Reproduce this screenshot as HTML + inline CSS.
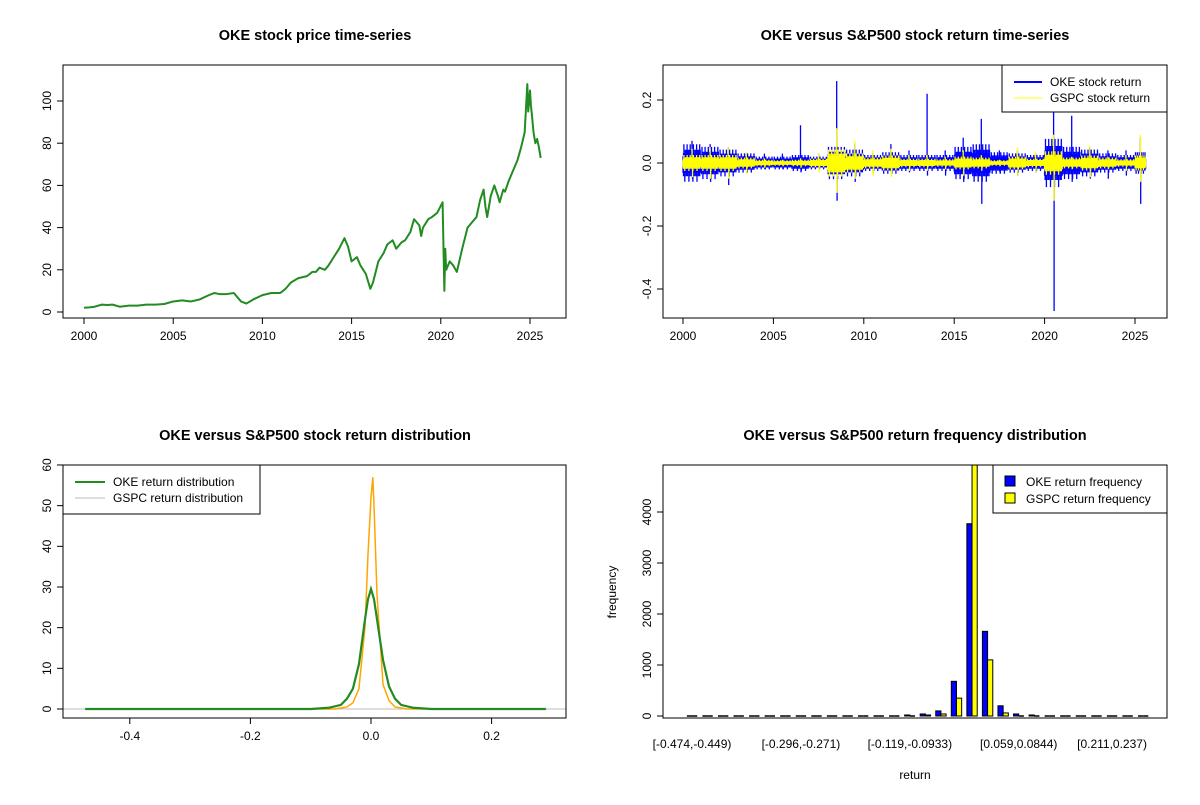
<!DOCTYPE html>
<html><head><meta charset="utf-8"><style>
body{margin:0;background:#fff;}
svg text{font-family:"Liberation Sans",Arial,sans-serif;}
</style></head><body>
<svg id="chart" width="1200" height="800" viewBox="0 0 1200 800" xmlns="http://www.w3.org/2000/svg">
<rect width="1200" height="800" fill="#fff"/>
<g id="p1"></g>
<g id="p2"></g>
<g id="p3"></g>
<g id="p4"></g>
</svg>
<script>
// ---- Panel 1 data
const priceYears=[2000,2000.3,2000.6,2001,2001.3,2001.6,2002,2002.5,2003,2003.5,2004,2004.5,2005,2005.5,2006,2006.5,2007,2007.3,2007.6,2008,2008.4,2008.8,2009.1,2009.5,2010,2010.5,2011,2011.3,2011.6,2012,2012.5,2012.8,2013,2013.2,2013.5,2013.7,2014,2014.3,2014.6,2014.8,2015,2015.3,2015.5,2015.8,2016.05,2016.2,2016.5,2016.8,2017,2017.3,2017.5,2017.8,2018,2018.3,2018.5,2018.8,2018.9,2019,2019.3,2019.5,2019.8,2020.1,2020.2,2020.25,2020.3,2020.5,2020.7,2020.9,2021.2,2021.5,2021.8,2022,2022.2,2022.4,2022.5,2022.6,2022.8,2023,2023.2,2023.3,2023.5,2023.6,2023.8,2024,2024.3,2024.5,2024.7,2024.85,2024.9,2025.0,2025.05,2025.1,2025.2,2025.3,2025.4,2025.5,2025.6];
const priceVals=[2,2.2,2.5,3.5,3.3,3.5,2.5,3,3,3.5,3.5,3.8,5,5.5,5,6,8,9,8.5,8.5,9,5,4,6,8,9,9,11,14,16,17,19,19,21,20,22,26,30,35,31,24,26,22,18,11,14,24,28,32,34,30,33,34,38,44,41,36,40,44,45,47,52,10,30,20,24,22,19,30,40,43,45,53,58,50,45,55,60,55,52,58,57,62,66,72,78,85,108,95,105,98,94,85,80,82,78,73];
const yearTicks=[2000,2005,2010,2015,2020,2025];
const priceTicks=[0,20,40,60,80,100];
// ---- Panel 2 data (per-year envelopes)
const retYears=[2000,2001,2002,2003,2004,2005,2006,2007,2008,2009,2010,2011,2012,2013,2014,2015,2016,2017,2018,2019,2020,2021,2022,2023,2024,2025];
const okeTyp=[.035,.03,.025,.018,.012,.012,.015,.012,.03,.025,.015,.02,.015,.015,.015,.03,.035,.02,.018,.015,.045,.03,.025,.018,.015,.02];
const okeMax=[.07,.06,.05,.03,.03,.03,.12,.03,.26,.06,.03,.06,.04,.22,.04,.08,.14,.04,.04,.03,.17,.15,.05,.04,.04,.08];
const okeMin=[-.05,-.06,-.07,-.03,-.02,-.02,-.03,-.02,-.12,-.06,-.03,-.03,-.03,-.04,-.04,-.06,-.13,-.03,-.04,-.03,-.47,-.06,-.05,-.05,-.04,-.13];
const gspcTyp=[.015,.015,.015,.01,.006,.005,.006,.008,.025,.018,.01,.014,.008,.008,.007,.012,.01,.005,.012,.008,.022,.01,.014,.01,.007,.014];
const gspcMax=[.045,.05,.05,.035,.015,.01,.015,.03,.11,.07,.04,.045,.025,.025,.02,.04,.025,.01,.05,.035,.09,.02,.055,.02,.025,.09];
const gspcMin=[-.045,-.05,-.05,-.035,-.015,-.01,-.015,-.03,-.095,-.05,-.04,-.045,-.025,-.025,-.02,-.04,-.025,-.01,-.04,-.03,-.12,-.02,-.045,-.02,-.025,-.06];
const retTicks=[-0.4,-0.2,0.0,0.2];
// ---- Panel 3 data
const okeDx=[-0.474,-0.1,-0.07,-0.05,-0.04,-0.03,-0.02,-0.01,-0.005,0,0.005,0.01,0.02,0.03,0.04,0.05,0.07,0.1,0.29];
const okeDy=[0,0,0.3,1,2.5,5,11,22,27,29.5,27,22,12,5.5,2.5,1,0.3,0,0];
const gspcDx=[-0.12,-0.06,-0.04,-0.03,-0.02,-0.01,-0.005,0,0.003,0.005,0.01,0.02,0.03,0.04,0.06,0.09];
const gspcDy=[0,0,0.5,1.5,5,20,38,52,57,50,28,6,2,0.5,0,0];
const densXTicks=[-0.4,-0.2,0.0,0.2];
const densYTicks=[0,10,20,30,40,50,60];
// ---- Panel 4 data
const binLabels=["[-0.474,-0.449)","","","","","","","[-0.296,-0.271)","","","","","","","[-0.119,-0.0933)","","","","","","","[0.059,0.0844)","","","","","","[0.211,0.237)","",""];
const okeCounts=[1,0,0,0,0,0,0,0,0,1,0,1,5,15,20,40,100,680,3770,1660,200,40,20,15,1,1,0,0,0,1];
const gspcCounts=[0,0,0,0,0,0,0,0,0,0,0,0,2,5,8,20,40,350,5400,1100,60,15,5,3,0,0,0,0,0,0];
const freqTicks=[0,1000,2000,3000,4000];

const NS="http://www.w3.org/2000/svg";
function mk(parent,tag,attrs,name,text){const e=document.createElementNS(NS,tag);for(const k in attrs)e.setAttribute(k,attrs[k]);


if(text!==undefined)e.textContent=text;parent.appendChild(e);return e;}
function box(g,x0,y0,x1,y1){mk(g,'rect',{x:x0,y:y0,width:x1-x0,height:y1-y0,fill:'none',stroke:'#000','stroke-width':1},'plot-frame');}
function title(g,x,y,t){mk(g,'text',{x:x,y:y,'text-anchor':'middle','font-size':'14.5','font-weight':'bold'},'chart-title',t);}
function xtick(g,x,yb,lab){mk(g,'line',{x1:x,y1:yb,x2:x,y2:yb+6,stroke:'#000'},'x-tick');mk(g,'text',{x:x,y:yb+22,'text-anchor':'middle','font-size':'12'},'x-tick-label',lab);}
function ytick(g,xl,y,lab){mk(g,'line',{x1:xl,y1:y,x2:xl-6,y2:y,stroke:'#000'},'y-tick');mk(g,'text',{x:0,y:0,'text-anchor':'middle','font-size':'12',transform:`translate(${xl-12},${y}) rotate(-90)`},'y-tick-label',lab);}

// Panel 1
(function(){const g=document.getElementById('p1');
const sx=v=>84+(v-2000)*(530-84)/25, sy=v=>312-v*2.11;
title(g,315,40,'OKE stock price time-series');
mk(g,'polyline',{points:priceYears.map((y,i)=>sx(y)+','+sy(priceVals[i])).join(' '),fill:'none',stroke:'#228B22','stroke-width':2,'stroke-linejoin':'round'},'price-line');
mk(g,'line',{x1:sx(2000),y1:318,x2:sx(2025),y2:318,stroke:'#000'},'x-axis');
yearTicks.forEach(t=>xtick(g,sx(t),318,String(t)));
mk(g,'line',{x1:63,y1:sy(0),x2:63,y2:sy(100),stroke:'#000'},'y-axis');
priceTicks.forEach(t=>ytick(g,63,sy(t),String(t)));
box(g,63,65,566,318);})();

// Panel 2
(function(){const g=document.getElementById('p2');
const sx=v=>683+(v-2000)*(1135-683)/25, sy=v=>163-v*315;
title(g,915,40,'OKE versus S&P500 stock return time-series');
function series(typ,mx,mn,col,name){let d='';
retYears.forEach((yr,i)=>{const n=40;const span=(yr===2025)?0.6:1;for(let k=0;k<n;k++){const x=sx(yr+span*k/n);let hi=typ[i]*(0.6+0.3*(k%3)),lo=-typ[i]*(0.6+0.3*((k+1)%3));
if(k%7===2)hi=typ[i]*1.7;if(k%9===4)lo=-typ[i]*1.7;
if(k===Math.floor(n/2)){hi=mx[i];}if(k===Math.floor(n/2)+1){lo=mn[i];}
d+=`M${x.toFixed(1)},${sy(hi).toFixed(1)}V${sy(lo).toFixed(1)}`;}});
mk(g,'path',{d:d,stroke:col,'stroke-width':1.3,fill:'none'},name);}
series(okeTyp,okeMax,okeMin,'#0000FF','oke-return-series');
series(gspcTyp,gspcMax,gspcMin,'#FFFF00','gspc-return-series');
mk(g,'line',{x1:sx(2000),y1:318,x2:sx(2025),y2:318,stroke:'#000'},'x-axis');
yearTicks.forEach(t=>xtick(g,sx(t),318,String(t)));
retTicks.forEach(t=>ytick(g,663,sy(t),t===0?'0.0':String(t)));
box(g,663,65,1167,318);
const lg=mk(g,'g',{},'legend');
mk(lg,'rect',{x:1002,y:65,width:165,height:47,fill:'#fff',stroke:'#000'},'legend-box');
mk(lg,'line',{x1:1014,y1:82,x2:1042,y2:82,stroke:'#0000FF','stroke-width':2},'legend-oke-swatch');
mk(lg,'text',{x:1050,y:86,'font-size':'12'},'legend-oke-label','OKE stock return');
mk(lg,'line',{x1:1014,y1:98,x2:1042,y2:98,stroke:'#FFFF00','stroke-width':1},'legend-gspc-swatch');
mk(lg,'text',{x:1050,y:102,'font-size':'12'},'legend-gspc-label','GSPC stock return');})();

// Panel 3
(function(){const g=document.getElementById('p3');
const sx=v=>371+v*603, sy=v=>709-v*4.067;
title(g,315,440,'OKE versus S&P500 stock return distribution');
mk(g,'line',{x1:63,y1:sy(0),x2:566,y2:sy(0),stroke:'#bebebe'},'zero-line');
mk(g,'polyline',{points:gspcDx.map((x,i)=>sx(x)+','+sy(gspcDy[i])).join(' '),fill:'none',stroke:'#FFA500','stroke-width':1.5},'gspc-density');
mk(g,'polyline',{points:okeDx.map((x,i)=>sx(x)+','+sy(okeDy[i])).join(' '),fill:'none',stroke:'#228B22','stroke-width':2.2},'oke-density');
mk(g,'line',{x1:sx(-0.4),y1:718,x2:sx(0.2),y2:718,stroke:'#000'},'x-axis');
densXTicks.forEach(t=>xtick(g,sx(t),718,t===0?'0.0':String(t)));
mk(g,'line',{x1:63,y1:sy(0),x2:63,y2:sy(60),stroke:'#000'},'y-axis');
densYTicks.forEach(t=>ytick(g,63,sy(t),String(t)));
box(g,63,465,566,718);
const lg=mk(g,'g',{},'legend');
mk(lg,'rect',{x:63,y:465,width:197,height:49,fill:'#fff',stroke:'#000'},'legend-box');
mk(lg,'line',{x1:75,y1:482,x2:105,y2:482,stroke:'#228B22','stroke-width':2},'legend-oke-swatch');
mk(lg,'text',{x:113,y:486,'font-size':'12'},'legend-oke-label','OKE return distribution');
mk(lg,'line',{x1:75,y1:498,x2:105,y2:498,stroke:'#bebebe','stroke-width':1},'legend-gspc-swatch');
mk(lg,'text',{x:113,y:502,'font-size':'12'},'legend-gspc-label','GSPC return distribution');})();

// Panel 4
(function(){const g=document.getElementById('p4');
const u=504/97.2, sx=v=>663+(v+3.6)*u, sy=v=>716-v*0.051;
title(g,915,440,'OKE versus S&P500 return frequency distribution');
const clip=mk(g,'clipPath',{id:'c4'},'clip');mk(clip,'rect',{x:663,y:465,width:504,height:253},'clip-rect');
const bars=mk(g,'g',{'clip-path':'url(#c4)'},'bars');
function drawBars(arr,off,col,name){arr.forEach((c,i)=>{const x=sx(3*i+off);
if(sy(0)-sy(c)<1){mk(bars,'line',{x1:x,y1:sy(0),x2:x+u,y2:sy(0),stroke:'#000','stroke-width':1.5},name);}
else mk(bars,'rect',{x:x,y:sy(c),width:u,height:sy(0)-sy(c),fill:col,stroke:'#000','stroke-width':1},name);});}
drawBars(okeCounts,1,'#0000FF','bar-oke');
drawBars(gspcCounts,2,'#FFFF00','bar-gspc');
binLabels.forEach((l,i)=>{if(l)mk(g,'text',{x:sx(3*i+2),y:748,'text-anchor':'middle','font-size':'12'},'x-tick-label',l);});
mk(g,'line',{x1:663,y1:sy(0),x2:663,y2:sy(4000),stroke:'#000'},'y-axis');
freqTicks.forEach(t=>ytick(g,663,sy(t),String(t)));
mk(g,'text',{x:915,y:779,'text-anchor':'middle','font-size':'12'},'x-axis-title','return');
mk(g,'text',{x:0,y:0,'text-anchor':'middle','font-size':'12',transform:'translate(616,592) rotate(-90)'},'y-axis-title','frequency');
box(g,663,465,1167,718);
const lg=mk(g,'g',{},'legend');
mk(lg,'rect',{x:993,y:465,width:174,height:48,fill:'#fff',stroke:'#000'},'legend-box');
mk(lg,'rect',{x:1005,y:476,width:10,height:10,fill:'#0000FF',stroke:'#000'},'legend-oke-swatch');
mk(lg,'text',{x:1026,y:486,'font-size':'12'},'legend-oke-label','OKE return frequency');
mk(lg,'rect',{x:1005,y:493,width:10,height:10,fill:'#FFFF00',stroke:'#000'},'legend-gspc-swatch');
mk(lg,'text',{x:1026,y:503,'font-size':'12'},'legend-gspc-label','GSPC return frequency');})();
</script>
</body></html>
